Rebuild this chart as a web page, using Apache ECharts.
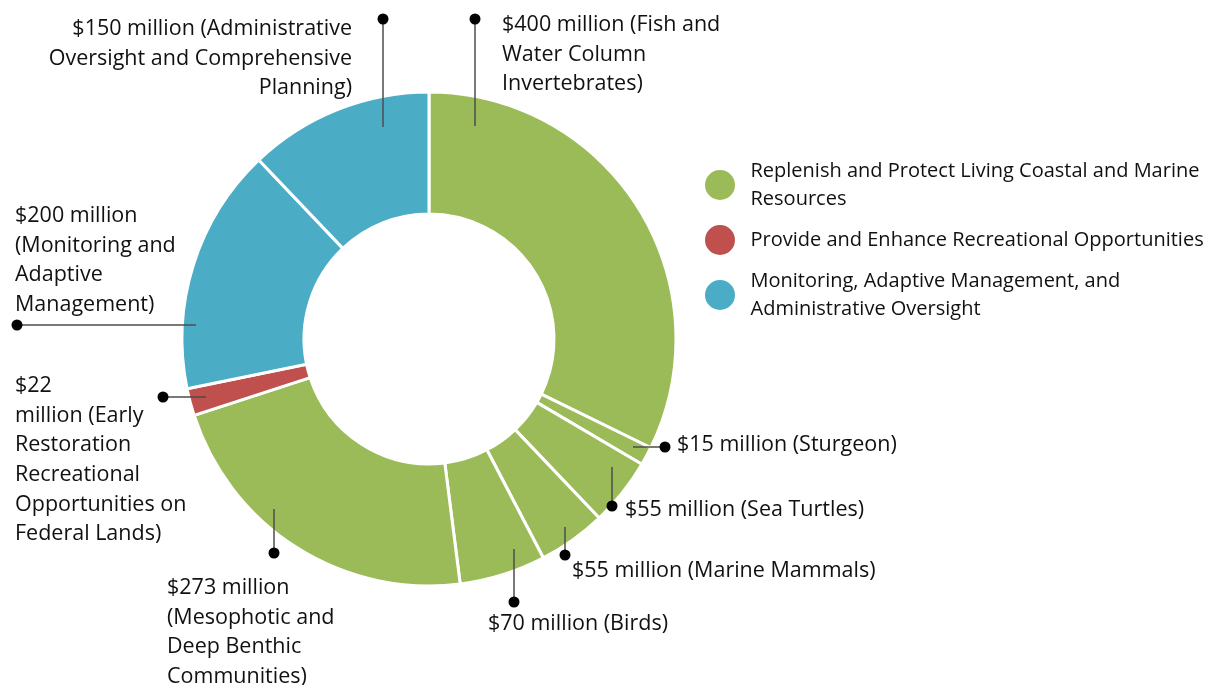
<!DOCTYPE html>
<html>
<head>
<meta charset="utf-8">
<script src="https://cdn.jsdelivr.net/npm/echarts@6/dist/echarts.min.js"></script>
<style>
html,body{margin:0;padding:0;background:#fff;}
#chart{width:1211px;height:685px;}
</style>
</head>
<body>
<div id="chart"></div>
<script>
// ---- data ----
var groups = [
  'Replenish and Protect Living Coastal and Marine\nResources',
  'Provide and Enhance Recreational Opportunities',
  'Monitoring, Adaptive Management, and\nAdministrative Oversight'
];
var groupColors = ['#9BBB59', '#C0504D', '#4BACC6'];
var categories = [
  'Fish and Water Column Invertebrates',
  'Sturgeon',
  'Sea Turtles',
  'Marine Mammals',
  'Birds',
  'Mesophotic and Deep Benthic Communities',
  'Early Restoration Recreational Opportunities on Federal Lands',
  'Monitoring and Adaptive Management',
  'Administrative Oversight and Comprehensive Planning'
];
var values = [400, 15, 55, 55, 70, 273, 22, 200, 150];
var groupOf = [0, 0, 0, 0, 0, 0, 1, 2, 2];
var labelTexts = [
  '$400 million (Fish and\nWater Column\nInvertebrates)',
  '$15 million (Sturgeon)',
  '$55 million (Sea Turtles)',
  '$55 million (Marine Mammals)',
  '$70 million (Birds)',
  '$273 million\n(Mesophotic and\nDeep Benthic\nCommunities)',
  '$22\nmillion (Early\nRestoration\nRecreational\nOpportunities on\nFederal Lands)',
  '$200 million\n(Monitoring and\nAdaptive\nManagement)',
  '$150 million (Administrative\nOversight and Comprehensive\nPlanning)'
];

// ---- layout (positions only) ----
var labelPos = [
  {x: 502, y: 10, align: 'left', va: 'top'},
  {x: 677, y: 445, align: 'left', va: 'middle'},
  {x: 625, y: 510, align: 'left', va: 'middle'},
  {x: 572, y: 571, align: 'left', va: 'middle'},
  {x: 488, y: 624, align: 'left', va: 'middle'},
  {x: 167, y: 573, align: 'left', va: 'top'},
  {x: 15, y: 371, align: 'left', va: 'top'},
  {x: 15, y: 201, align: 'left', va: 'top'},
  {x: 352, y: 14, align: 'right', va: 'top'}
];
var leaderPos = [
  [[475, 126], [475, 19]],
  [[633, 447], [665, 447]],
  [[612, 467], [612, 506]],
  [[565, 527], [565, 555]],
  [[514, 549], [514, 602]],
  [[274, 509], [274, 553]],
  [[206, 397], [163, 397]],
  [[196, 325], [17, 325]],
  [[383, 127], [383, 19]]
];

var pieData = categories.map(function (c, i) {
  return {
    name: c,
    value: values[i],
    itemStyle: {color: groupColors[groupOf[i]]},
    label: {formatter: labelTexts[i]}
  };
});
var legendData = groups.map(function (g, i) {
  return {name: g, value: 0, itemStyle: {color: groupColors[i]}};
});

var graphics = [];
leaderPos.forEach(function (p) {
  graphics.push({
    type: 'polyline',
    shape: {points: p},
    style: {stroke: '#4d4d4d', lineWidth: 1.5, fill: null},
    z: 100,
    silent: true
  });
  graphics.push({
    type: 'circle',
    shape: {cx: p[1][0], cy: p[1][1], r: 5.5},
    style: {fill: '#000'},
    z: 101,
    silent: true
  });
});

var chart = echarts.init(document.getElementById('chart'), null, {renderer: 'canvas'});
chart.setOption({
  animation: false,
  backgroundColor: '#fff',
  textStyle: {fontFamily: 'Open Sans'},
  legend: {
    orient: 'vertical',
    left: 705,
    top: 155,
    padding: 0,
    itemGap: 9,
    itemWidth: 31,
    itemHeight: 30,
    icon: 'circle',
    selectedMode: false,
    data: groups,
    textStyle: {
      fontFamily: 'Open Sans',
      fontSize: 20,
      lineHeight: 28,
      color: '#111',
      padding: [4, 0, 0, 10]
    }
  },
  graphic: graphics,
  series: [
    {
      type: 'pie',
      center: [429, 339],
      radius: [125, 247],
      startAngle: 90,
      clockwise: true,
      silent: true,
      avoidLabelOverlap: false,
      itemStyle: {borderColor: '#fff', borderWidth: 3},
      label: {
        show: true,
        fontFamily: 'Open Sans',
        fontSize: 21.5,
        lineHeight: 29.7,
        color: '#111'
      },
      labelLine: {show: false},
      labelLayout: function (params) {
        var lp = labelPos[params.dataIndex];
        return {
          x: lp.x,
          y: lp.y,
          align: lp.align,
          verticalAlign: lp.va
        };
      },
      emphasis: {disabled: true},
      data: pieData
    },
    {
      type: 'pie',
      center: [429, 339],
      radius: [0, 0],
      silent: true,
      label: {show: false},
      labelLine: {show: false},
      emphasis: {disabled: true},
      data: legendData
    }
  ]
});
</script>
</body>
</html>
